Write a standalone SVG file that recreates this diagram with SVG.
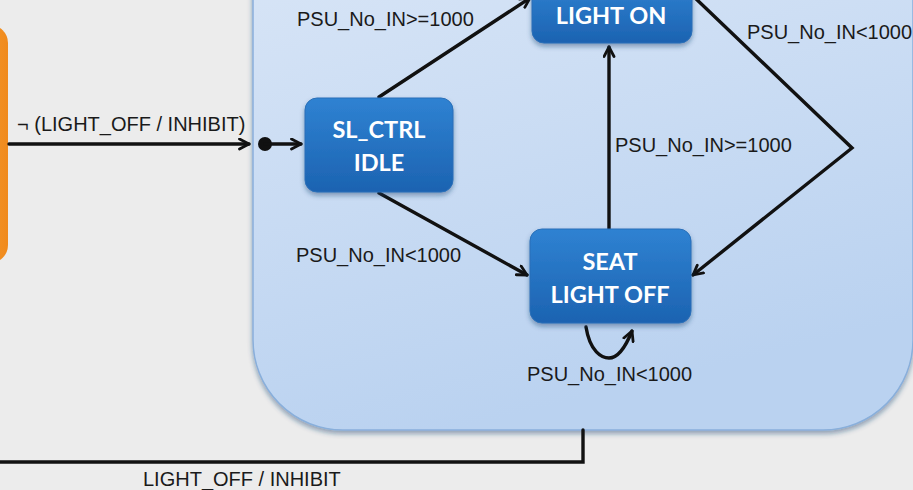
<svg xmlns="http://www.w3.org/2000/svg" width="913" height="490" viewBox="0 0 913 490">
<defs>
<linearGradient id="gCont" x1="0" y1="0" x2="0.3" y2="1">
<stop offset="0" stop-color="#dbe7f7"/>
<stop offset="1" stop-color="#bad2f0"/>
</linearGradient>
<linearGradient id="gNode" x1="0" y1="0" x2="0" y2="1">
<stop offset="0" stop-color="#2f82d2"/>
<stop offset="1" stop-color="#1c63b1"/>
</linearGradient>
<linearGradient id="gOr" x1="0" y1="0" x2="1" y2="0">
<stop offset="0" stop-color="#f7a23a"/>
<stop offset="1" stop-color="#f08a1c"/>
</linearGradient>
<filter id="sh" x="-10%" y="-10%" width="120%" height="130%">
<feDropShadow dx="0" dy="3" stdDeviation="2.5" flood-color="#1a3f6e" flood-opacity="0.45"/>
</filter>
<marker id="arr" viewBox="0 0 13 13" refX="11" refY="6.5" markerWidth="13" markerHeight="13" markerUnits="userSpaceOnUse" orient="auto">
<path d="M1.5,1.5 L11,6.5 L1.5,11.5" fill="none" stroke="#111" stroke-width="2.8" stroke-linecap="round" stroke-linejoin="round"/>
</marker>
<style>
.lbl{font-family:"Liberation Sans",Arial,sans-serif;font-size:20px;fill:#1a1a1a}
.nt{font-family:Lato,"Open Sans",sans-serif;font-weight:bold;font-size:23.5px;fill:#ffffff;text-anchor:middle}
.ln{fill:none;stroke:#111;stroke-width:3.4;stroke-linecap:round;stroke-linejoin:miter}
.node{fill:url(#gNode);stroke:#2a6fb8;stroke-width:1;filter:url(#sh)}
</style>
</defs>
<rect x="0" y="0" width="913" height="490" fill="#ececec"/>
<g id="inhibit-state">
<rect x="-40" y="25" width="48" height="238" rx="18" fill="url(#gOr)"/>
</g>
<g id="sl-ctrl-container">
<rect x="253" y="-100" width="660" height="530" rx="90" fill="url(#gCont)" stroke="#89afdb" stroke-width="1.5" filter="url(#sh)"/>
</g>
<g id="connectors">
<line class="ln" x1="9" y1="144" x2="249" y2="144" marker-end="url(#arr)"/>
<circle cx="265" cy="144" r="7" fill="#111"/>
<line class="ln" x1="265" y1="144" x2="301" y2="144" marker-end="url(#arr)"/>
<line class="ln" x1="379" y1="97" x2="530" y2="-2" marker-end="url(#arr)"/>
<line class="ln" x1="379" y1="193" x2="527" y2="275" marker-end="url(#arr)"/>
<line class="ln" x1="609" y1="229" x2="609" y2="47" marker-end="url(#arr)"/>
<polyline class="ln" points="692,-5 852,148 693,275" marker-end="url(#arr)"/>
<path class="ln" d="M586,327 C590,352 602,358 609,358 C618,358 626,346 632,331" marker-end="url(#arr)"/>
<polyline class="ln" points="583,430 583,462 -5,462"/>
</g>
<g id="labels">
<text class="lbl" x="17" y="131">¬ (LIGHT_OFF / INHIBIT)</text>
<text class="lbl" x="297" y="26">PSU_No_IN&gt;=1000</text>
<text class="lbl" x="296" y="262">PSU_No_IN&lt;1000</text>
<text class="lbl" x="615" y="152">PSU_No_IN&gt;=1000</text>
<text class="lbl" x="747" y="39">PSU_No_IN&lt;1000</text>
<text class="lbl" x="527" y="381">PSU_No_IN&lt;1000</text>
<text class="lbl" x="143" y="486">LIGHT_OFF / INHIBIT</text>
</g>
<g id="light-on">
<rect class="node" x="532" y="-20" width="160" height="63" rx="12"/>
<text class="nt" x="611" y="24">LIGHT ON</text>
</g>
<g id="sl-ctrl-idle">
<rect class="node" x="305" y="98" width="148" height="94" rx="12"/>
<text class="nt" x="379" y="138">SL_CTRL</text>
<text class="nt" x="379" y="171">IDLE</text>
</g>
<g id="seat-light-off">
<rect class="node" x="530" y="229" width="161" height="94" rx="12"/>
<text class="nt" x="610" y="270">SEAT</text>
<text class="nt" x="610" y="303">LIGHT OFF</text>
</g>
</svg>
